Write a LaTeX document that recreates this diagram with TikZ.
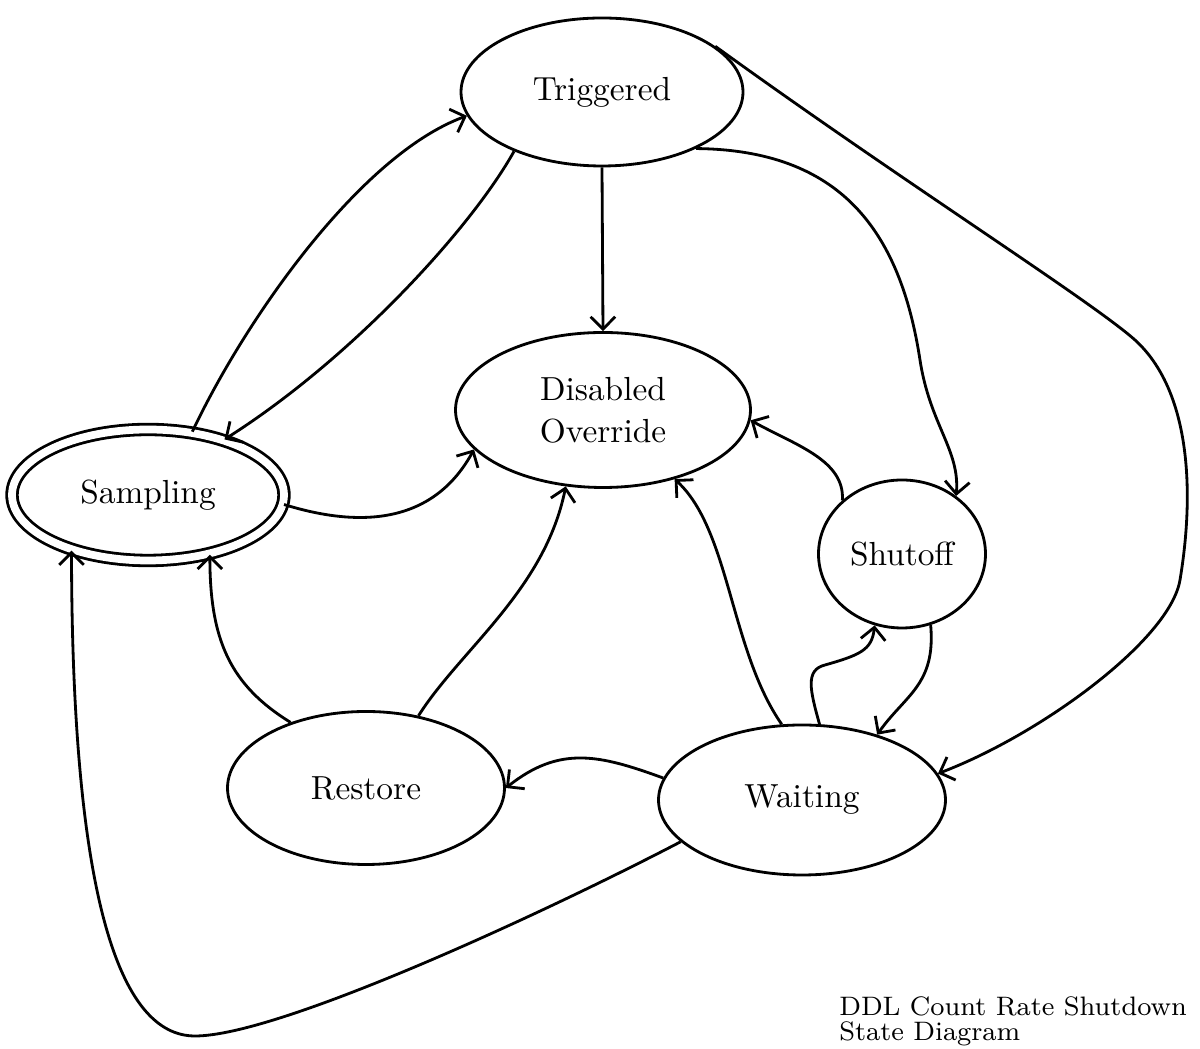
\documentclass[tikz,border=0pt]{standalone}
\usetikzlibrary{shapes.geometric,arrows.meta}

\begin{document}
\begin{tikzpicture}[%
    >={Straight Barb[length=3.5pt,width=7pt]},
    state/.style={draw, ellipse, inner sep=0pt, align=center,
      font=\fontsize{9.5}{12}\selectfont},
    thick
  ]
    \useasboundingbox (0,0) rectangle (12,-10.49);

    \node[state, minimum width=2.82cm, minimum height=1.48cm] (T) at (6.02,-0.92) {Triggered};
    \node[state, minimum width=2.95cm, minimum height=1.55cm] (D) at (6.03,-4.10) {Disabled\\Override};
    \node[state, double, double distance=2.2pt, outer sep=auto,
      minimum width=2.72cm, minimum height=1.31cm] (S) at (1.48,-4.95) {Sampling};
    \node[state, minimum width=1.67cm, minimum height=1.48cm] (O) at (9.02,-5.54) {Shutoff};
    \node[state, minimum width=2.77cm, minimum height=1.53cm] (R) at (3.66,-7.88) {Restore};
    \node[state, minimum width=2.87cm, minimum height=1.50cm] (W) at (8.02,-8.00) {Waiting};

    \node[anchor=north west, align=left, inner sep=0pt,
      font=\fontsize{7.6}{7.1}\selectfont] (C) at (8.38,-9.95) {DDL Count Rate Shutdown\\State Diagram};

    % out of Triggered
    \draw[->] (T.214) .. controls (4.7,-2.3) and (3.5,-3.6) .. (S.36);
    \draw[->] (T.south) -- (D.north);
    \draw[->] (T.329) .. controls (8.4,-1.5) and (9.0,-2.3) .. (9.2,-3.6)
      .. controls (9.3,-4.25) and (9.6,-4.5) .. (O.47);
    \draw[->] (T.22) .. controls (9.0,-1.8) and (10.9,-3.0) .. (11.35,-3.4)
      .. controls (11.9,-3.9) and (11.95,-4.9) .. (11.8,-5.8)
      .. controls (11.7,-6.4) and (10.4,-7.35) .. (W.11);

    % into Disabled Override
    \draw[->] (S.356) .. controls (3.5,-5.25) and (4.3,-5.3) .. (D.197);
    \draw[->] (O.138) .. controls (8.45,-4.6) and (7.95,-4.45) .. (D.356);
    \draw[->] (W.105) .. controls (7.3,-6.5) and (7.3,-5.3) .. (D.316);
    \draw[->] (R.54) .. controls (4.6,-6.5) and (5.45,-5.9) .. (D.244);

    % the rest
    \draw[->] (S.55) .. controls (2.45,-3.2) and (3.6,-1.55) .. (T.190);
    \draw[->] (O.292) .. controls (9.36,-6.85) and (9.05,-6.95) .. (W.41);
    \draw[->] (W.77) .. controls (8.1,-6.9) and (8.05,-6.7) .. (8.25,-6.65)
      .. controls (8.6,-6.55) and (8.72,-6.5) .. (O.249);
    \draw[->] (R.139) .. controls (2.3,-6.85) and (2.1,-6.4) .. (S.316);
    \draw[->] (W.171) .. controls (6.0,-7.55) and (5.6,-7.45) .. (R.0);
    \draw[->] (W.199) .. controls (5.5,-9.1) and (2.8,-10.36) .. (1.95,-10.36)
      .. controls (1.2,-10.36) and (0.72,-9.0) .. (S.216);
  \end{tikzpicture}
\end{document}
